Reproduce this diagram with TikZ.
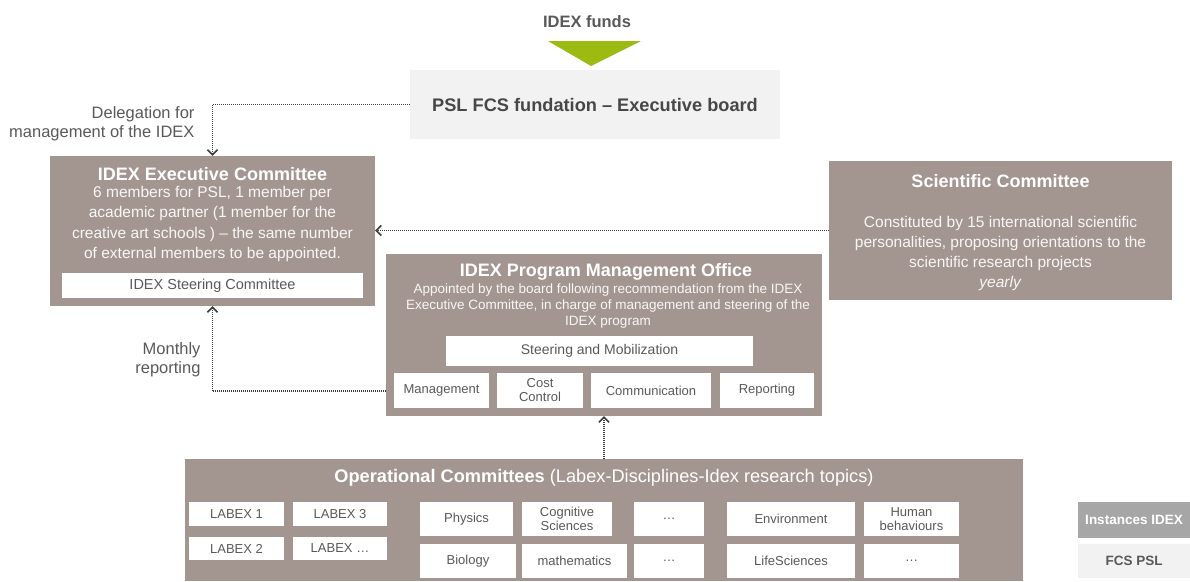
\documentclass[tikz,border=0pt]{standalone}
\usepackage{fontspec}
\setmainfont{Liberation Sans}
\usepackage{tikz}
\usetikzlibrary{arrows.meta}

\definecolor{boxbrown}{RGB}{163,150,144}
\definecolor{boardgray}{RGB}{242,242,242}
\definecolor{inktext}{RGB}{89,89,89}
\definecolor{legendgray}{RGB}{166,166,166}
\definecolor{fundgreen}{RGB}{156,187,18}
\definecolor{linkgray}{RGB}{60,60,60}

\begin{document}
\begin{tikzpicture}[x=1pt,y=-1pt,
  bigbox/.style={fill=boxbrown,inner sep=0pt},
  subbox/.style={fill=white,inner sep=0pt,align=center,text=inktext,font=\fontsize{13}{14}\selectfont},
  ttl/.style={text=white,font=\fontsize{18}{21}\selectfont\bfseries},
  body/.style={text=white!92!boxbrown,align=center},
  note/.style={text=inktext,align=right,font=\fontsize{16.5}{19}\selectfont,anchor=east},
  link/.style={dash pattern=on 1pt off 1pt,line width=1.6pt,draw=linkgray,-{Straight Barb[length=5pt,width=10pt]}}]
 \useasboundingbox (0,0) rectangle (1190,581);
%
 \node[text=inktext,font=\fontsize{16.5}{19}\selectfont\bfseries] (funds) at (587,22) {IDEX funds};
 \fill[fundgreen] (548,41) -- (641,41) -- (591,66) -- cycle;
 \node[fill=boardgray,minimum width=370,minimum height=69,inner sep=0pt,text=inktext!80!black,
   font=\fontsize{18.2}{21}\selectfont\bfseries] (board) at (595,104.5) {PSL FCS fundation -- Executive board};
%
 \node[bigbox,minimum width=325,minimum height=150] (exec) at (212.5,231) {};
 \node[ttl] (exectitle) at (212.5,174) {IDEX Executive Committee};
 \node[body,font=\fontsize{15.5}{20.5}\selectfont] (exectext) at (212.5,224) {6 members for PSL, 1 member per\\academic partner (1 member for the\\creative art schools ) -- the same number\\of external members to be appointed.};
 \node[subbox,minimum width=301,minimum height=25,font=\fontsize{14.5}{16}\selectfont] (steer) at (212.5,285.5) {IDEX Steering Committee};
%
 \node[bigbox,minimum width=343,minimum height=139] (sci) at (1000.5,230.5) {};
 \node[ttl] (scititle) at (1000.5,181) {Scientific Committee};
 \node[body,font=\fontsize{15.5}{20}\selectfont] (scitext) at (1000.5,253) {Constituted by 15 international scientific\\personalities, proposing orientations to the\\scientific research projects\\\textit{yearly}};
%
 \node[bigbox,minimum width=436,minimum height=162] (pmo) at (604,335) {};
 \node[ttl] (pmotitle) at (606,272) {IDEX Program Management Office};
 \node[body,font=\fontsize{13.5}{16}\selectfont] (pmotext) at (608,306) {Appointed by the board following recommendation from the IDEX\\Executive Committee, in charge of management and steering of the\\IDEX program};
 \node[subbox,minimum width=307,minimum height=30,font=\fontsize{14}{16}\selectfont] (mobil) at (599.5,351) {Steering and Mobilization};
 \node[subbox,minimum width=95,minimum height=35] (mgmt) at (441.5,390.5) {Management};
 \node[subbox,minimum width=86,minimum height=35] (cost) at (540,390.5) {Cost\\Control};
 \node[subbox,minimum width=120,minimum height=35] (comm) at (651,390.5) {Communication};
 \node[subbox,minimum width=94,minimum height=35] (report) at (767,390.5) {Reporting};
%
 \node[bigbox,minimum width=838,minimum height=122] (ops) at (604,520) {};
 \node[text=white,font=\fontsize{18.2}{21}\selectfont] (opstitle) at (604,478) {\textbf{Operational Committees} (Labex-Disciplines-Idex research topics)};
 \node[subbox,minimum width=95,minimum height=24] (lab1) at (236.5,514) {LABEX 1};
 \node[subbox,minimum width=94,minimum height=24] (lab3) at (340,514) {LABEX 3};
 \node[subbox,minimum width=95,minimum height=23] (lab2) at (236.5,548.5) {LABEX 2};
 \node[subbox,minimum width=94,minimum height=23] (labx) at (340,548.5) {LABEX \dots};
 \node[subbox,minimum width=93,minimum height=34] (phys) at (466.5,519) {Physics};
 \node[subbox,minimum width=90,minimum height=34] (cogn) at (567,519) {Cognitive\\Sciences};
 \node[subbox,minimum width=70,minimum height=34] (dotsa) at (669,519) {\dots};
 \node[subbox,minimum width=96,minimum height=34] (bio) at (468,561) {Biology};
 \node[subbox,minimum width=105,minimum height=34] (math) at (574.5,561) {mathematics};
 \node[subbox,minimum width=70,minimum height=34] (dotsb) at (669,561) {\dots};
 \node[subbox,minimum width=128,minimum height=34] (env) at (791,519) {Environment};
 \node[subbox,minimum width=95,minimum height=34] (human) at (911.5,519) {Human\\behaviours};
 \node[subbox,minimum width=128,minimum height=34] (life) at (791,561) {LifeSciences};
 \node[subbox,minimum width=95,minimum height=34] (dotsc) at (911.5,561) {\dots};
%
 \node[fill=legendgray,minimum width=112,minimum height=36,inner sep=0pt,text=white,
   font=\fontsize{13.5}{15}\selectfont\bfseries] (leginst) at (1134,520) {Instances IDEX};
 \node[fill=boardgray,minimum width=112,minimum height=34,inner sep=0pt,text=inktext,
   font=\fontsize{13.5}{15}\selectfont\bfseries] (legfcs) at (1134,561) {FCS PSL};
%
 \coordinate (pmoout) at (386,391);
 \coordinate (opsin) at (604,459);
 \draw[link] (board.west) -| (exec.north);
 \draw[link] (sci.west) -- (sci.west -| exec.east);
 \draw[link] (pmoout) -| (exec.south);
 \draw[link] (opsin) -- (opsin |- pmo.south);
 \node[note] (delegation) at (198,123.5) {Delegation for\\management of the IDEX};
 \node[note] (monthly) at (204,360) {Monthly\\reporting};
\end{tikzpicture}
\end{document}
